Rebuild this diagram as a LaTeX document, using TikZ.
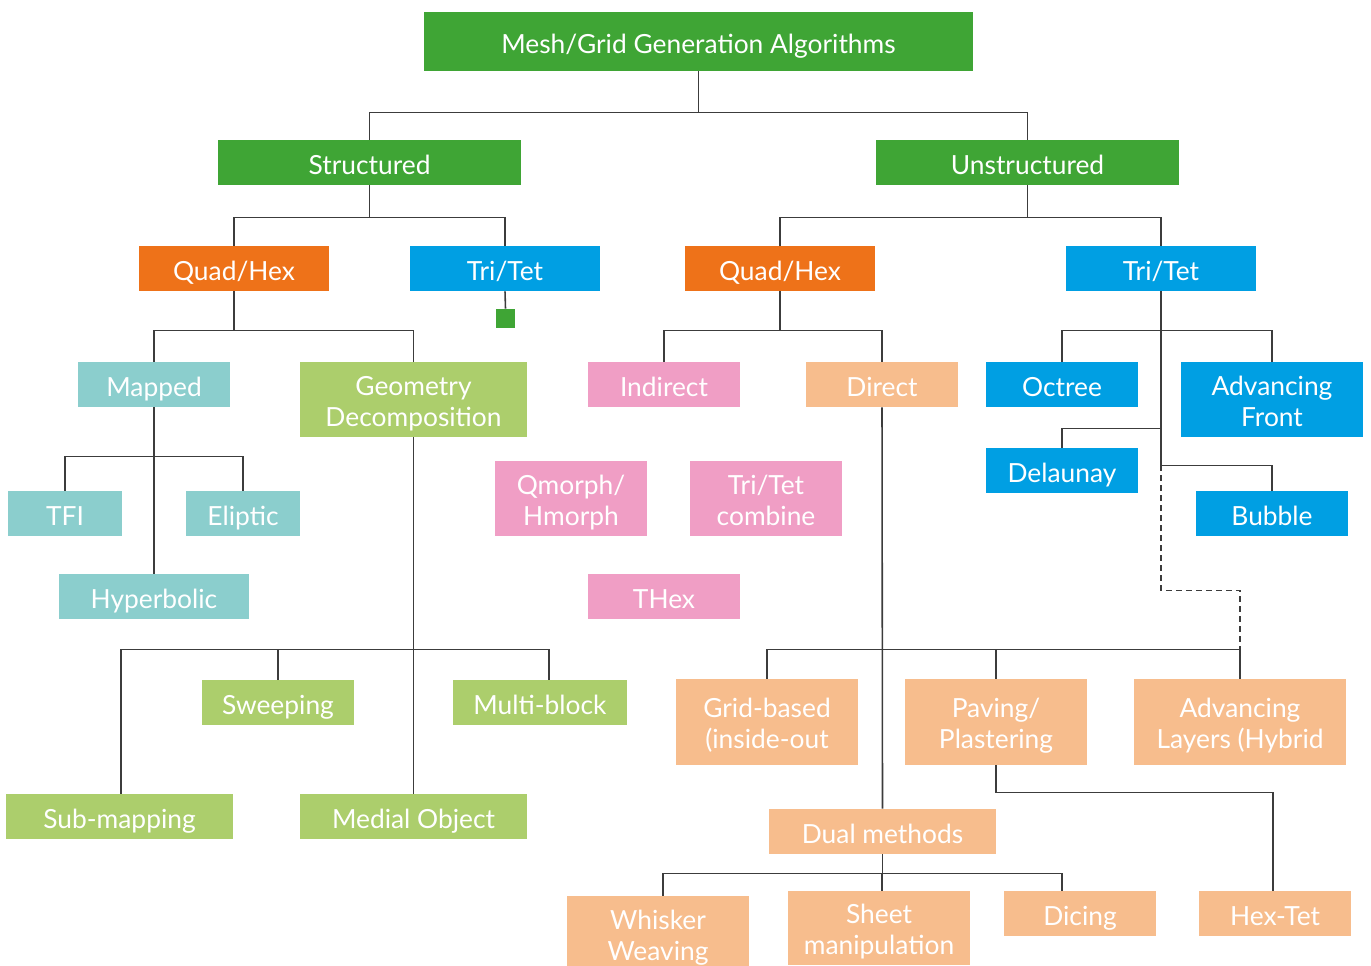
\documentclass[tikz,border=0pt]{standalone}
\usepackage{fontspec}
\setmainfont{Lato}
\usetikzlibrary{positioning}
\definecolor{TopClr}{RGB}{63,165,53}
\definecolor{QuadClr}{RGB}{238,114,25}
\definecolor{TriClr}{RGB}{0,159,227}
\definecolor{MapClr}{RGB}{139,206,205}
\definecolor{GeoClr}{RGB}{172,206,108}
\definecolor{IndClr}{RGB}{240,158,197}
\definecolor{DirClr}{RGB}{247,189,141}
\definecolor{LineClr}{RGB}{60,60,60}

\tikzset{
  mbox/.style={rectangle,inner sep=0pt,align=center,text=white,
    font=\fontsize{15}{17.5}\selectfont,
    execute at begin node={\vrule width 0pt height 17.2pt},
    execute at end node={\vrule width 0pt depth 4pt}},
  tall/.style={execute at begin node={\vrule width 0pt height 34.3pt}},
  sz/.style 2 args={minimum width=#1*0.02cm,minimum height=#2*0.02cm},
  conn/.style={draw=LineClr,line width=0.9pt}
}

\begin{document}
\begin{tikzpicture}[x=0.02cm,y=-0.02cm]
\useasboundingbox (0,0) rectangle (1371,965);

% top levels
\node[mbox,fill=TopClr,sz={549}{59}] (top) at (698.5,41.5) {Mesh/Grid Generation Algorithms};
\node[mbox,fill=TopClr,sz={303}{45}] (struct) at (369.5,162.5) {Structured};
\node[mbox,fill=TopClr,sz={303}{45}] (unstr) at (1027.5,162.5) {Unstructured};

\node[mbox,fill=QuadClr,sz={190}{45}] (qhL) at (234,268.5) {Quad/Hex};
\node[mbox,fill=TriClr,sz={190}{45}] (ttL) at (505,268.5) {Tri/Tet};
\node[mbox,fill=QuadClr,sz={190}{45}] (qhR) at (780,268.5) {Quad/Hex};
\node[mbox,fill=TriClr,sz={190}{45}] (ttR) at (1161,268.5) {Tri/Tet};
\node[fill=TopClr,inner sep=0pt,sz={19}{19}] (sq) at (505.5,318.5) {};

% structured quad/hex
\node[mbox,fill=MapClr,sz={152}{45}] (mapped) at (154,384.5) {Mapped};
\node[mbox,tall,fill=GeoClr,sz={227}{75}] (geo) at (413.5,399.5) {Geometry\\Decomposition};
\node[mbox,fill=MapClr,sz={114}{45}] (tfi) at (65,513.5) {TFI};
\node[mbox,fill=MapClr,sz={114}{45}] (elip) at (243,513.5) {Eliptic};
\node[mbox,fill=MapClr,sz={190}{45}] (hyper) at (154,596.5) {Hyperbolic};
\node[mbox,fill=GeoClr,sz={152}{45}] (sweep) at (278,702.5) {Sweeping};
\node[mbox,fill=GeoClr,sz={174}{45}] (multi) at (540,702.5) {Multi-block};
\node[mbox,fill=GeoClr,sz={227}{45}] (submap) at (119.5,816.5) {Sub-mapping};
\node[mbox,fill=GeoClr,sz={227}{45}] (medial) at (413.5,816.5) {Medial Object};

% unstructured quad/hex
\node[mbox,fill=IndClr,sz={152}{45}] (indirect) at (664,384.5) {Indirect};
\node[mbox,fill=DirClr,sz={152}{45}] (direct) at (882,384.5) {Direct};
\node[mbox,tall,fill=IndClr,sz={152}{75}] (qmorph) at (571,498.5) {Qmorph/\\Hmorph};
\node[mbox,tall,fill=IndClr,sz={152}{75}] (tricomb) at (766,498.5) {Tri/Tet\\combine};
\node[mbox,fill=IndClr,sz={152}{45}] (thex) at (664,596.5) {THex};
\node[mbox,tall,fill=DirClr,sz={182}{86}] (grid) at (767,722) {Grid-based\\(inside-out};
\node[mbox,tall,fill=DirClr,sz={182}{86}] (paving) at (996,722) {Paving/\\Plastering};
\node[mbox,tall,fill=DirClr,sz={212}{86}] (advL) at (1240,722) {Advancing\\Layers (Hybrid};
\node[mbox,fill=DirClr,sz={227}{45}] (dual) at (882.5,831.5) {Dual methods};
\node[mbox,tall,fill=DirClr,sz={182}{75}] (whisker) at (658,933.5) {Whisker\\Weaving};
\node[mbox,tall,fill=DirClr,sz={182}{74}] (sheet) at (879,928) {Sheet\\manipulation};
\node[mbox,fill=DirClr,sz={152}{45}] (dicing) at (1080,913.5) {Dicing};
\node[mbox,fill=DirClr,sz={152}{45}] (hextet) at (1275,913.5) {Hex-Tet};

% unstructured tri/tet
\node[mbox,fill=TriClr,sz={152}{45}] (octree) at (1062,384.5) {Octree};
\node[mbox,tall,fill=TriClr,sz={182}{75}] (advF) at (1272,399.5) {Advancing\\Front};
\node[mbox,fill=TriClr,sz={152}{45}] (delaunay) at (1062,470.5) {Delaunay};
\node[mbox,fill=TriClr,sz={152}{45}] (bubble) at (1272,513.5) {Bubble};

% connectors
\draw[conn] (top.south) -- ++(0,41) coordinate (b0);
\draw[conn] (struct.north) |- (b0) -| (unstr.north);
\draw[conn] (struct.south) -- ++(0,32) coordinate (b1);
\draw[conn] (qhL.north) |- (b1) -| (ttL.north);
\draw[conn] (ttL.south) -- (sq.north);
\draw[conn] (unstr.south) -- ++(0,32) coordinate (b2);
\draw[conn] (qhR.north) |- (b2) -| (ttR.north);

\draw[conn] (qhL.south) -- ++(0,39) coordinate (b3);
\draw[conn] (mapped.north) |- (b3) -| (geo.north);
\draw[conn] (mapped.south) -- (hyper.north);
\draw[conn] (tfi.north) -- ++(0,-34) -| (elip.north);
\draw[conn] (geo.south) -- (medial.north);
\path (geo.south) ++(0,212) coordinate (b4);
\draw[conn] ([xshift=0.03cm]submap.north) |- (b4) -| ([xshift=0.18cm]multi.north);
\draw[conn] (sweep.north) |- (b4);

\draw[conn] (qhR.south) -- ++(0,39) coordinate (b5);
\draw[conn] (indirect.north) |- (b5) -| (direct.north);
\draw[conn] (direct.south) -- (dual.north);
\path (direct.south) ++(0,242) coordinate (b6);
\draw[conn] (grid.north) |- (b6) -| (advL.north);
\draw[conn] (paving.north) |- (b6);
\draw[conn] (paving.south) -- ++(0,27) -| ([xshift=-0.04cm]hextet.north);
\draw[conn] (dual.south) -- ++(0,19) coordinate (b7);
\draw[conn] ([xshift=0.1cm]whisker.north) |- (b7) -| ([xshift=-0.36cm]dicing.north);
\draw[conn] ([xshift=0.06cm]sheet.north) |- (b7);

\draw[conn] (ttR.south) -- ++(0,174) coordinate (b8);
\path (ttR.south) ++(0,39) coordinate (b9);
\draw[conn] (octree.north) |- (b9) -| (advF.north);
\draw[conn] (delaunay.north) -- ++(0,-19) -| (b8);
\draw[conn] (b8) -| (bubble.north);
\draw[conn,dash pattern=on 0.12cm off 0.08cm] (b8) -- ++(0,125) -| (b6 -| advL.north);
\end{tikzpicture}
\end{document}
